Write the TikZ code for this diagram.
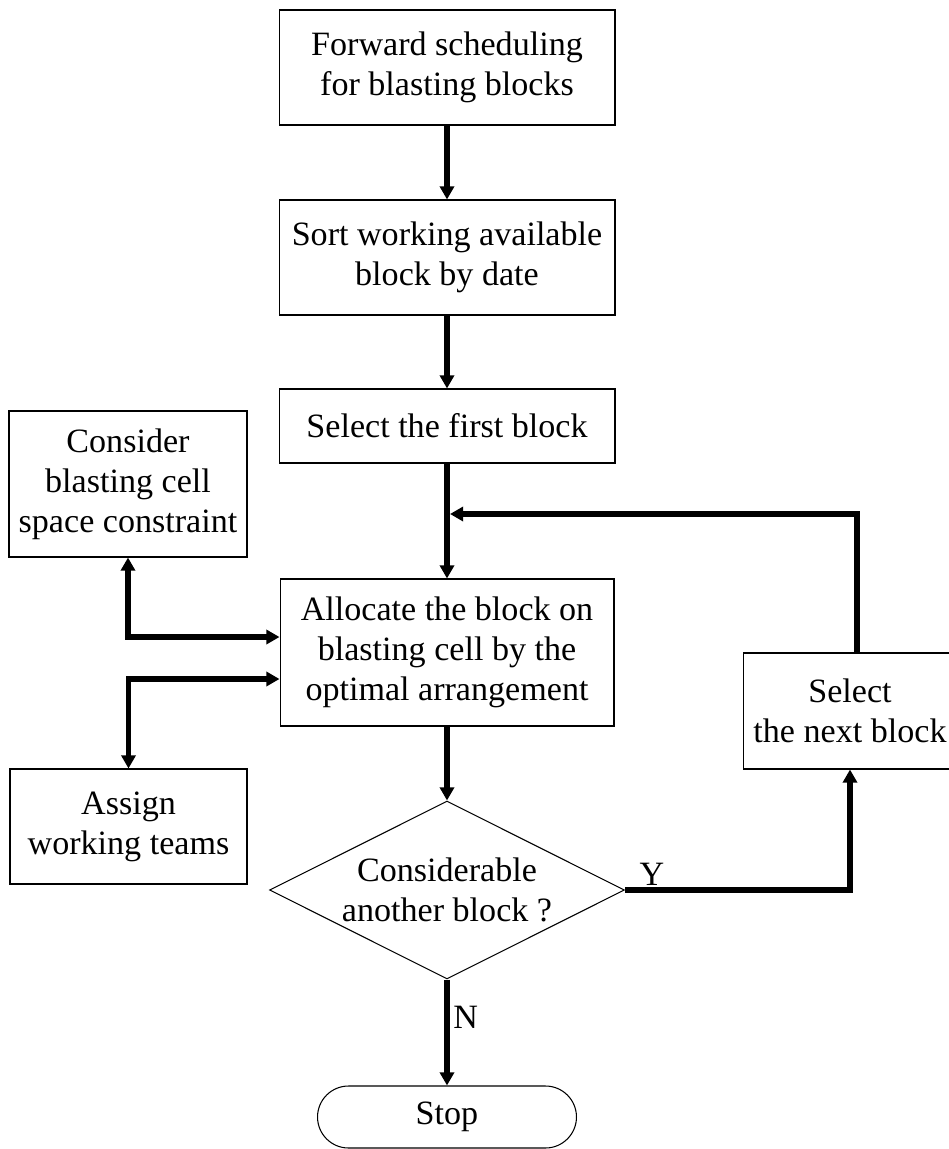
\documentclass[tikz,border=0pt]{standalone}
\usepackage{fontspec}
\setmainfont{Liberation Serif}
\usetikzlibrary{shapes.geometric,arrows.meta}

\begin{document}
\begin{tikzpicture}[x=0.02cm, y=-0.02cm,
	every node/.style={font=\fontsize{19.4}{22.8}\selectfont, align=center},
	box/.style={draw, line width=0.6pt, inner sep=0pt},
	decision/.style={draw, line width=0.6pt, shape=diamond, aspect=2, inner sep=0pt, minimum width=7.1cm, minimum height=3.56cm},
	stopbox/.style={draw, line width=0.6pt, rounded corners=0.62cm, minimum width=5.18cm, minimum height=1.24cm},
	arr/.style={line width=3.2pt, -{Triangle[length=7.5pt,width=8pt]}},
	darr/.style={line width=3.2pt, {Triangle[length=7.5pt,width=8pt]}-{Triangle[length=7.5pt,width=8pt]}}]
	\useasboundingbox (0,0) rectangle (948,1149);
	
	%main column
	\node[box, minimum width=6.72cm, minimum height=2.3cm] (fwd) at (447, 67.5) {Forward scheduling\\for blasting blocks};
	\node[box, minimum width=6.72cm, minimum height=2.3cm] (sort) at (447, 257.5) {Sort working available\\block by date};
	\node[box, minimum width=6.72cm, minimum height=1.48cm] (first) at (447, 426) {Select the first block};
	\node[box, minimum width=6.68cm, minimum height=2.94cm] (alloc) at (447, 652.5) {Allocate the block on\\blasting cell by the\\optimal arrangement};
	\node[decision] (dec) at (447, 890) {Considerable\\another block ?};
	\node[stopbox] (stop) at (447, 1117) {Stop};
	
	%side boxes
	\node[box, minimum width=4.76cm, minimum height=2.92cm] (consider) at (128, 484) {Consider\\blasting cell\\space constraint};
	\node[box, minimum width=4.74cm, minimum height=2.3cm] (assign) at (128.5, 826.5) {Assign\\working teams};
	\node[box, minimum width=4.28cm, minimum height=2.32cm] (next) at (850, 711) {Select\\the next block};
	
	\draw[arr] (fwd) -- (sort);
	\draw[arr] (sort) -- (first);
	\draw[arr] (first) -- (alloc);
	\draw[arr] (alloc) -- (dec);
	\draw[arr] (dec) -- node[pos=0.36, right, inner sep=2pt]{N} (stop);
	\draw[arr] (dec.east) -| node[pos=0.06, above, inner sep=1pt]{Y} (next.south);
	
	%loop back
	\coordinate (merge) at (450, 514);
	\draw[arr] ([xshift=0.14cm]next.north) |- (merge);
	
	\draw[darr] (consider.south) |- ([yshift=0.31cm]alloc.west);
	\draw[darr] (assign.north) |- ([yshift=-0.53cm]alloc.west);
\end{tikzpicture}
\end{document}
